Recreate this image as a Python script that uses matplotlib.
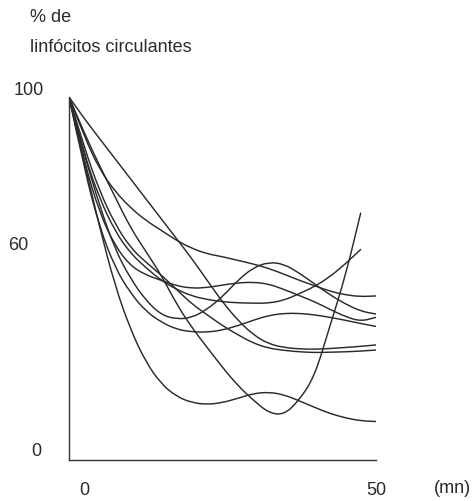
"""Circulating lymphocytes (%) over time, one line per subject."""

import matplotlib

matplotlib.use("Agg")
import matplotlib.pyplot as plt
from matplotlib.path import Path
from matplotlib.patches import PathPatch

# minutes, read every 2.5 mn
t = [0, 2.5, 5, 7.5, 10, 12.5, 15, 17.5, 20, 22.5, 25,
     27.5, 30, 32.5, 35, 37.5, 40, 42.5, 45, 47.5, 50]

# % of circulating lymphocytes, one list per curve
deep_dip = [100, 82, 64, 48, 36, 27, 21, 17.5, 15.8, 15.3, 15.8,
            17, 18.3, 18.7, 18, 16.3, 14.5, 12.8, 11.6, 10.8, 10.6]
v_shape = [100, 90, 81, 72.5, 64, 57.5, 51, 43, 36.5, 31, 25.5,
           20.5, 16.5, 13, 12.4, 16.5, 23, 37, 50.5, 68]
straight = [100, 94, 88.5, 83, 77.5, 72, 66.5, 61, 55.5, 49.5, 43.5,
            38.5, 34.5, 32, 31, 30.6, 30.5, 30.7, 31, 31.3, 31.7]
low_plateau = [100, 86, 74, 65, 58.5, 54.5, 51, 47, 43, 40, 37,
               34.5, 32.2, 30.8, 30.2, 29.8, 29.6, 29.7, 29.8, 30, 30.3]
hump = [100, 84, 70, 58, 50, 44, 40, 38.8, 39.2, 41.5, 45,
        49.5, 53, 54.5, 54, 51.5, 48.5, 45.5, 43, 41, 40.2]
rising_end = [100, 84, 72, 63, 57, 53, 49.5, 47, 45.2, 44.2, 43.6,
              43.3, 43.2, 43.2, 44, 45.8, 47.8, 50.5, 54, 58]
small_bump = [100, 80, 64, 53, 46, 41, 38, 36, 35.3, 35.2, 35.8,
              37, 38.5, 39.8, 40.4, 40.4, 40, 39.3, 38.5, 37.6, 36.8]
top_plateau = [100, 89, 80, 74, 69.5, 66, 63.3, 60.5, 58.3, 56.8, 56,
               55, 54, 52.8, 51.2, 49.5, 48, 46.5, 45.5, 45, 45.2]
late_dip = [100, 82, 68, 59, 53.5, 51, 49.5, 48, 47.3, 47.5, 48.2,
            48.8, 49, 48.5, 47, 45.3, 43.6, 41.5, 39.5, 38.2, 39.3]

curves = [deep_dip, v_shape, straight, low_plateau, hump,
          rising_end, small_bump, top_plateau, late_dip]

y_ticks = [0, 60, 100]
x_ticks = [0, 50]

INK = "#2b2b2b"


def smooth_path(xs, ys):
    # quadratic bezier through the midpoints, read points act as controls
    pts = list(zip(xs, ys))
    verts = [pts[0]]
    codes = [Path.MOVETO]
    for i in range(1, len(pts) - 1):
        mid = ((pts[i][0] + pts[i + 1][0]) / 2, (pts[i][1] + pts[i + 1][1]) / 2)
        verts += [pts[i], mid]
        codes += [Path.CURVE3, Path.CURVE3]
    verts.append(pts[-1])
    codes.append(Path.LINETO)
    return Path(verts, codes)


def main():
    plt.rcParams["font.family"] = ["Liberation Sans", "DejaVu Sans"]

    fig = plt.figure(figsize=(4.74, 5.02), dpi=100)
    ax = fig.add_axes([69 / 474, 41 / 502, 307 / 474, 363 / 502])

    for c in curves:
        patch = PathPatch(smooth_path(t[:len(c)], c), fill=False,
                          edgecolor=INK, linewidth=1.05,
                          joinstyle="round", capstyle="round")
        ax.add_patch(patch)

    ax.set_xlim(0, 50)
    ax.set_ylim(0, 100)

    for side in ("top", "right"):
        ax.spines[side].set_visible(False)
    for side in ("left", "bottom"):
        ax.spines[side].set_color("#333333")
        ax.spines[side].set_linewidth(1.0)

    ax.set_xticks([])
    ax.set_yticks([])

    # tick labels sit away from the axes, as in the original figure
    fs = 13
    ax.text(-0.13, 1.02, str(y_ticks[2]), transform=ax.transAxes,
            ha="center", va="center", fontsize=fs, color=INK)
    ax.text(-0.165, 0.595, str(y_ticks[1]), transform=ax.transAxes,
            ha="center", va="center", fontsize=fs, color=INK)
    ax.text(-0.105, 0.025, str(y_ticks[0]), transform=ax.transAxes,
            ha="center", va="center", fontsize=fs, color=INK)

    ax.text(0.05, -0.08, str(x_ticks[0]), transform=ax.transAxes,
            ha="center", va="center", fontsize=fs, color=INK)
    ax.text(1.0, -0.08, str(x_ticks[1]), transform=ax.transAxes,
            ha="center", va="center", fontsize=fs, color=INK)
    ax.text(1.25, -0.075, "(mn)", transform=ax.transAxes,
            ha="center", va="center", fontsize=fs, color=INK)

    fig.text(30 / 474, 1 - 18 / 502, "% de", ha="left", va="center",
             fontsize=fs, color=INK)
    fig.text(30 / 474, 1 - 47 / 502, "linfócitos circulantes", ha="left",
             va="center", fontsize=fs, color=INK)

    fig.savefig("out.png", dpi=100, facecolor="white")


if __name__ == "__main__":
    main()
